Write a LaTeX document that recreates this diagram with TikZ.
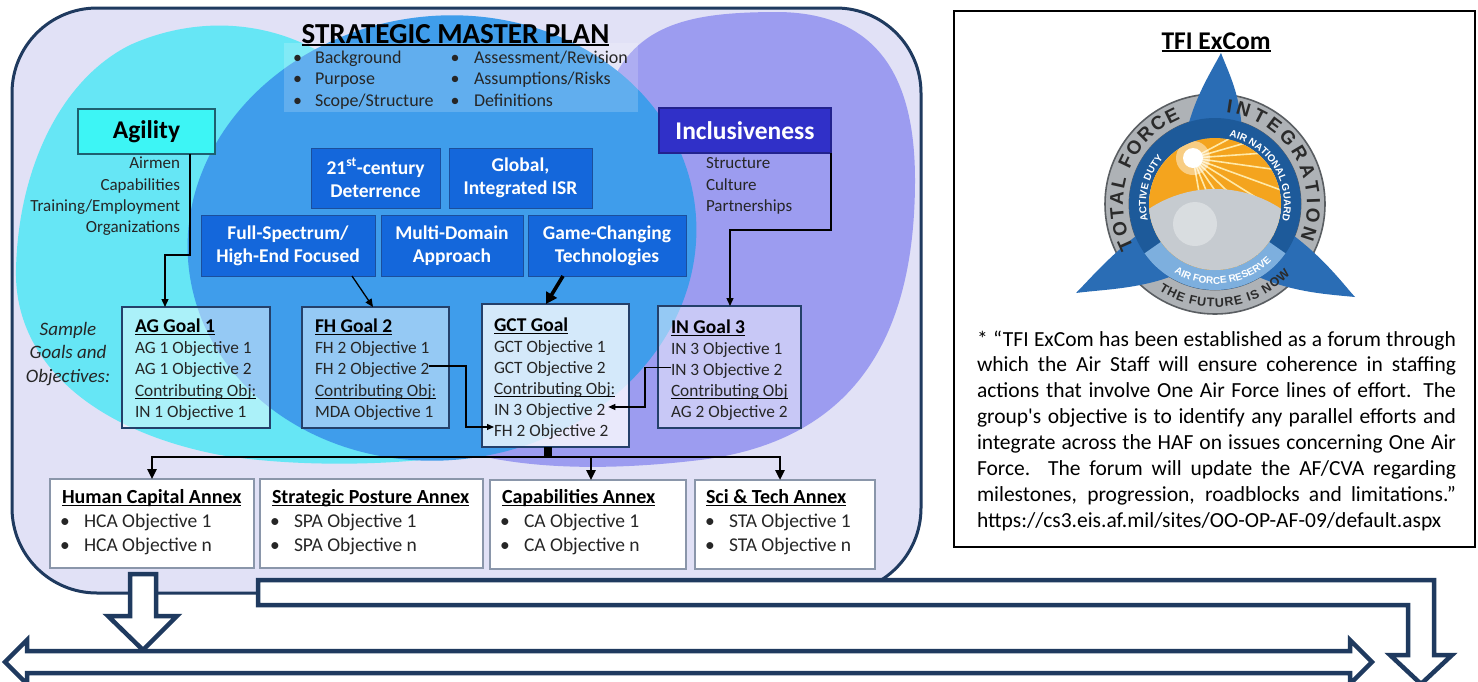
\documentclass[tikz,border=0pt]{standalone}
\usepackage{fontspec}
\setmainfont{Carlito}
\newfontfamily\logofont{Liberation Sans}
\usetikzlibrary{arrows.meta,decorations.text,calc}
\definecolor{navy}{HTML}{1F3A5F}
\definecolor{lav}{HTML}{E1E1F6}
\definecolor{cyanbg}{HTML}{66E6F5}
\definecolor{bluebg}{HTML}{3F9DEB}
\definecolor{purpbg}{HTML}{9C9CF0}
\definecolor{agcyan}{HTML}{3DF5F5}
\definecolor{agbord}{HTML}{1E6070}
\definecolor{incl}{HTML}{3030C8}
\definecolor{inclb}{HTML}{22228E}
\definecolor{bbox}{HTML}{1467DB}
\definecolor{bboxd}{HTML}{1B4F9C}
\definecolor{goalb}{HTML}{24406A}
\definecolor{anxb}{HTML}{8A96AA}
\definecolor{txt}{HTML}{262626}
\definecolor{ringgray}{HTML}{AEB2B6}
\definecolor{ringdark}{HTML}{5A5E62}
\definecolor{spikeb}{HTML}{2A6DB5}
\definecolor{bandd}{HTML}{1D5A9A}
\definecolor{bandl}{HTML}{7DAFDE}
\definecolor{sunor}{HTML}{F4A41E}
\definecolor{globeg}{HTML}{C6CBD0}
\definecolor{ltext}{HTML}{2B2B2B}
\definecolor{rayc}{HTML}{FFE9A8}
\newcommand{\fsz}[1]{\fontsize{#1pt}{#1pt}\selectfont}
\newcommand{\undl}[2][1.1]{\draw[line width=#1pt] ([yshift=-2.2pt]#2.base west) -- ([yshift=-2.2pt]#2.base east);}
\begin{document}
\begin{tikzpicture}[x=1pt,y=-1pt,
  every node/.style={inner sep=0pt,outer sep=0pt},
  bul/.style={anchor=base west,font=\fsz{18},text=txt},
  agl/.style={anchor=base west,font=\fsz{17},text=txt},
  gh/.style={anchor=base west,font=\bfseries\fsz{19.5},text=black},
  gt/.style={anchor=base west,font=\fsz{17.3},text=txt},
  anh/.style={anchor=base west,font=\bfseries\fsz{20},text=black},
  ant/.style={anchor=base west,font=\fsz{19.5},text=txt},
  ptx/.style={anchor=base west,font=\fsz{21.5},text=black},
  bluebox/.style={draw=bboxd,line width=1pt,fill=bbox,text=white,font=\bfseries\fontsize{19.5pt}{23pt}\selectfont,align=center},
  goalbox/.style={draw=goalb,line width=1.8pt,fill=white,fill opacity=0.45},
  annexbox/.style={draw=anxb,line width=1.2pt,fill=white},
  conn/.style={line width=1.3pt,-{Triangle[length=8pt,width=7pt]}},
  xconn/.style={line width=1.2pt,-{Triangle[length=7pt,width=6pt]}},
  busline/.style={line width=2.4pt,-{Triangle[length=10pt,width=9pt]}},
  blockarrow/.style={draw=navy,line width=4.5pt,fill=white,line join=miter}
  ]
\useasboundingbox (0,0) rectangle (1478,681);
\fill[white] (0,0) rectangle (1478,681);

% ---------- background of master plan ----------
\begin{scope}
\clip[rounded corners=85pt] (12,8) rectangle (921,593);
\fill[lav] (12,8) rectangle (921,593);
\fill[cyanbg] (320,52) .. controls (260,18) and (190,18) .. (130,45) .. controls (60,80) and (18,170) .. (16,270) .. controls (14,360) and (90,430) .. (220,455) .. controls (300,468) and (400,465) .. (460,455) -- (500,150) -- cycle;
\fill[purpbg] (612,82) .. controls (640,20) and (700,12) .. (780,12) .. controls (880,14) and (915,80) .. (915,180) .. controls (915,330) and (860,440) .. (700,460) .. controls (600,472) and (500,470) .. (430,440) -- (400,100) -- cycle;
\fill[bluebg, rotate around={8:(442,238)}] (442,238) ellipse [x radius=255, y radius=222];
\fill[white, fill opacity=0.18] (284,43) rectangle (638,112);
\end{scope}
\draw[navy, line width=3pt, rounded corners=85pt] (12,8) rectangle (921,593);

% ---------- title and bullets ----------
\node[anchor=base, font=\bfseries\fsz{29}] (title) at (455.5,43) {STRATEGIC MASTER PLAN};
\undl[1.8]{title}
\node[bul,anchor=base] (bd1) at (297.5,63) {\textbullet};
\node[bul] (bt1) at (315,63) {Background};
\node[bul,anchor=base] (bd2) at (297.5,84.5) {\textbullet};
\node[bul] (bt2) at (315,84.5) {Purpose};
\node[bul,anchor=base] (bd3) at (297.5,106) {\textbullet};
\node[bul] (bt3) at (315,106) {Scope/Structure};
\node[bul,anchor=base] (bd4) at (455,63) {\textbullet};
\node[bul] (bt4) at (474,63) {Assessment/Revision};
\node[bul,anchor=base] (bd5) at (455,84.5) {\textbullet};
\node[bul] (bt5) at (474,84.5) {Assumptions/Risks};
\node[bul,anchor=base] (bd6) at (455,106) {\textbullet};
\node[bul] (bt6) at (474,106) {Definitions};

% ---------- Agility / Inclusiveness ----------
\node[draw=agbord, line width=1.3pt, fill=agcyan, minimum width=137pt, minimum height=45pt, font=\bfseries\fsz{25.5}] (ag) at (146.5,131.5) {Agility};
\node[agl,anchor=base east] (al1) at (180,168) {Airmen};
\node[agl,anchor=base east] (al2) at (180,190) {Capabilities};
\node[agl,anchor=base east] (al3) at (180,211) {Training/Employment};
\node[agl,anchor=base east] (al4) at (180,232) {Organizations};

\node[draw=inclb, line width=1.3pt, fill=incl, text=white, minimum width=172pt, minimum height=45pt, font=\bfseries\fsz{25.5}] (inc) at (745,130.5) {Inclusiveness};
\node[agl] (il1) at (706,168) {Structure};
\node[agl] (il2) at (706,190) {Culture};
\node[agl] (il3) at (706,211) {Partnerships};

% ---------- blue priority boxes ----------
\node[bluebox, minimum width=129pt, minimum height=60pt] (d21) at (375.5,178) {21\textsuperscript{st}-century\\Deterrence};
\node[bluebox, minimum width=143pt, minimum height=60pt] (gisr) at (520.5,178) {Global,\\Integrated ISR};
\node[bluebox, minimum width=174pt, minimum height=61pt] (fs) at (288,245.5) {Full-Spectrum/\\High-End Focused};
\node[bluebox, minimum width=142pt, minimum height=61pt] (mda) at (452,245.5) {Multi-Domain\\Approach};
\node[bluebox, minimum width=158pt, minimum height=61pt] (gc) at (607,245.5) {Game-Changing\\Technologies};

% ---------- goal boxes ----------
\node[goalbox, minimum width=148pt, minimum height=121pt] (g1) at (196,367.5) {};
\node[goalbox, minimum width=147pt, minimum height=121pt] (g2) at (375.5,367.5) {};
\node[goalbox, fill opacity=0.78, minimum width=147pt, minimum height=143pt] (g3) at (555.5,375.5) {};
\node[goalbox, minimum width=143pt, minimum height=122pt] (g4) at (729.5,367) {};

\node[gh] (g1h) at (135,332) {AG Goal 1}; \undl{g1h}
\node[gt] (g1a) at (135,353.5) {AG 1 Objective 1};
\node[gt] (g1b) at (135,374.5) {AG 1 Objective 2};
\node[gt] (g1c) at (135,396) {Contributing Obj:}; \undl[0.9]{g1c}
\node[gt] (g1d) at (135,417) {IN 1 Objective 1};

\node[gh] (g2h) at (315,332) {FH Goal 2}; \undl{g2h}
\node[gt] (g2a) at (315,353.5) {FH 2 Objective 1};
\node[gt] (f22) at (315,374.5) {FH 2 Objective 2};
\node[gt] (g2c) at (315,396) {Contributing Obj:}; \undl[0.9]{g2c}
\node[gt] (g2d) at (315,417) {MDA Objective 1};

\node[gh] (g3h) at (494,331) {GCT Goal}; \undl{g3h}
\node[gt] (g3a) at (494,352) {GCT Objective 1};
\node[gt] (g3b) at (494,373) {GCT Objective 2};
\node[gt] (g3c) at (494,394) {Contributing Obj:}; \undl[0.9]{g3c}
\node[gt] (gi32) at (494,415) {IN 3 Objective 2};
\node[gt] (gf22) at (494,436) {FH 2 Objective 2};

\node[gh] (g4h) at (671,333) {IN Goal 3}; \undl{g4h}
\node[gt] (g4a) at (671,354) {IN 3 Objective 1};
\node[gt] (i32) at (671,375) {IN 3 Objective 2};
\node[gt] (g4c) at (671,396) {Contributing Obj}; \undl[0.9]{g4c}
\node[gt] (g4d) at (671,417) {AG 2 Objective 2};

\node[anchor=base, font=\itshape\fsz{19}, text=txt] (s1) at (68,335) {Sample};
\node[anchor=base, font=\itshape\fsz{19}, text=txt] (s2) at (68,358) {Goals and};
\node[anchor=base, font=\itshape\fsz{19}, text=txt] (s3) at (68,382) {Objectives:};

% ---------- annex boxes ----------
\node[annexbox, minimum width=204pt, minimum height=89pt] (a1) at (152,523.5) {};
\node[annexbox, minimum width=223pt, minimum height=89pt] (a2) at (371.5,523.5) {};
\node[annexbox, minimum width=196pt, minimum height=89pt] (a3) at (588,524.5) {};
\node[annexbox, minimum width=180pt, minimum height=89pt] (a4) at (785,524.5) {};

\node[anh] (a1h) at (62,503) {Human Capital Annex}; \undl{a1h}
\node[ant,anchor=base] (a1d1) at (65,527) {\textbullet};
\node[ant] (a1t1) at (84,527) {HCA Objective 1};
\node[ant,anchor=base] (a1d2) at (65,551) {\textbullet};
\node[ant] (a1t2) at (84,551) {HCA Objective n};

\node[anh] (a2h) at (272,503) {Strategic Posture Annex}; \undl{a2h}
\node[ant,anchor=base] (a2d1) at (275,527) {\textbullet};
\node[ant] (a2t1) at (294,527) {SPA Objective 1};
\node[ant,anchor=base] (a2d2) at (275,551) {\textbullet};
\node[ant] (a2t2) at (294,551) {SPA Objective n};

\node[anh] (a3h) at (502,503) {Capabilities Annex}; \undl{a3h}
\node[ant,anchor=base] (a3d1) at (505,527) {\textbullet};
\node[ant] (a3t1) at (524,527) {CA Objective 1};
\node[ant,anchor=base] (a3d2) at (505,551) {\textbullet};
\node[ant] (a3t2) at (524,551) {CA Objective n};

\node[anh] (a4h) at (706,503) {Sci \& Tech Annex}; \undl{a4h}
\node[ant,anchor=base] (a4d1) at (710,527) {\textbullet};
\node[ant] (a4t1) at (729,527) {STA Objective 1};
\node[ant,anchor=base] (a4d2) at (710,551) {\textbullet};
\node[ant] (a4t2) at (729,551) {STA Objective n};

% ---------- connectors ----------
\coordinate (agb) at (165,255);
\draw[conn] ([xshift=43.5pt]ag.south) |- (agb) -- (agb |- g1.north);
\coordinate (inb) at (730,230);
\draw[conn] (inc.south east) |- (inb) -- (inb |- g4.north);
\draw[conn] ([xshift=64pt]fs.south) -- ([xshift=-2.5pt]g2.north);
\draw[line width=3.6pt,-{Triangle[length=11pt,width=12pt]}] ([xshift=-44pt]gc.south) -- ([xshift=-9.5pt]g3.north);
\coordinate (x1) at (466,0);
\draw[xconn] ([yshift=4pt]f22.east) -| ([yshift=4.5pt]x1 |- gf22.west) -- ([yshift=4.5pt]gf22.west);
\coordinate (x2) at (645,0);
\draw[xconn] ([yshift=3pt]i32.west) -| ([yshift=3.5pt]x2 |- gi32.east) -- ([xshift=3pt,yshift=3.5pt]gi32.east);
\coordinate (bus) at (548,457);
\draw[line width=8pt] (g3.south -| bus) -- (bus);
\draw[busline] (bus) -| (a1.north);
\draw[busline] (bus) -| ([xshift=3pt]a3.north);
\draw[busline] (bus) -| ([xshift=-5pt]a4.north);

% ---------- right panel ----------
\node[draw, line width=1.6pt, minimum width=521pt, minimum height=536pt] (tfi) at (1214.5,279) {};
\node[anchor=base, font=\bfseries\fsz{25.5}] (tfih) at (1216,49) {TFI ExCom};
\undl[1.8]{tfih}

\begin{scope}[x=1pt,y=1pt,shift={(1215pt,-204pt)}]
  \fill[ringgray, even odd rule] (0,0) circle[radius=110] (0,0) circle[radius=86];
  \draw[ringdark, line width=1.6pt] (0,0) circle[radius=110];
  \draw[ringdark, line width=0.8pt] (0,0) circle[radius=86];
  \fill[spikeb] (-31,58) .. controls (-25,100) and (-5,130) .. (6,151) .. controls (14,130) and (28,105) .. (27,60) -- cycle;
  \fill[spikeb] (-62.8,-20.4) .. controls (-100,-45) and (-125,-75) .. (-139,-89) .. controls (-110,-85) and (-60,-85) .. (-22.6,-62) -- cycle;
  \fill[spikeb] (62.8,-20.4) .. controls (105,-48) and (128,-80) .. (140,-93) .. controls (110,-90) and (65,-88) .. (22.6,-62) -- cycle;
  \fill[bandd, even odd rule] (0,0) circle[radius=86] (0,0) circle[radius=66];
  \fill[bandl] (215:86) arc[start angle=215,end angle=325,radius=86] -- (325:66) arc[start angle=325,end angle=215,radius=66] -- cycle;
  \fill[sunor] (0,0) circle[radius=66];
  \begin{scope}
    \clip (0,0) circle[radius=66];
    \foreach \a in {-80,-68,...,30} \draw[rayc, line width=1.6pt] (-22,46) -- ++(\a:120);
    \fill[white, opacity=0.45] (-22,46) circle[radius=17];
    \fill[white] (-22,46) circle[radius=10];
    \fill[globeg] (0,-105) circle[radius=120];
    \fill[white, opacity=0.35] (-20,-20) circle[radius=22];
  \end{scope}
  \path[decorate, decoration={text along path, text={|\logofont\bfseries\fsz{19}\color{ltext}|TOTAL FORCE}, text align={fit to path}}] (208:92) arc[start angle=208,end angle=112,radius=92];
  \path[decorate, decoration={text along path, text={|\logofont\bfseries\fsz{19}\color{ltext}|INTEGRATION}, text align={fit to path}}] (83:92) arc[start angle=83,end angle=-22,radius=92];
  \path[decorate, decoration={text along path, text={|\logofont\bfseries\fsz{12.5}\color{ltext}|THE FUTURE IS NOW}, text align={fit to path}}] (237:103) arc[start angle=237,end angle=317,radius=103];
  \path[decorate, decoration={text along path, text={|\logofont\bfseries\fsz{10}\color{white}|ACTIVE DUTY}, text align=center}] (210:69) arc[start angle=210,end angle=122,radius=69];
  \path[decorate, decoration={text along path, text={|\logofont\bfseries\fsz{10}\color{white}|AIR NATIONAL GUARD}, text align=center}] (92:69) arc[start angle=92,end angle=-28,radius=69];
  \path[decorate, decoration={text along path, text={|\logofont\bfseries\fsz{10}\color{white}|AIR FORCE RESERVE}, text align=center}] (222:80) arc[start angle=222,end angle=332,radius=80];
\end{scope}

\node[ptx] (p1) at (977,346) {\makebox[479pt][s]{* “TFI ExCom has been established as a forum through}};
\node[ptx] (p2) at (977,371.9) {\makebox[479pt][s]{which the Air Staff will ensure coherence in staffing}};
\node[ptx] (p3) at (977,397.8) {\makebox[479pt][s]{actions that involve One Air Force lines of effort. The}};
\node[ptx] (p4) at (977,423.7) {\makebox[479pt][s]{group\textquotesingle s objective is to identify any parallel efforts and}};
\node[ptx] (p5) at (977,449.6) {\makebox[479pt][s]{integrate across the HAF on issues concerning One Air}};
\node[ptx] (p6) at (977,475.5) {\makebox[479pt][s]{Force.\ \ The forum will update the AF/CVA regarding}};
\node[ptx] (p7) at (977,501.4) {\makebox[479pt][s]{milestones, progression, roadblocks and limitations.”}};
\node[ptx] (p8) at (977,527.3) {https://cs3.eis.af.mil/sites/OO-OP-AF-09/default.aspx};

% ---------- bottom block arrows ----------
\draw[blockarrow] (258,580) -- (1434,580) -- (1434,655) -- (1452,655) -- (1421,684) -- (1390,655) -- (1408,655) -- (1408,605) -- (258,605) -- cycle;
\draw[blockarrow] (130,574) -- (156,574) -- (156,616) -- (177,616) -- (143,650) -- (108,616) -- (130,616) -- cycle;
\draw[blockarrow] (27,651) -- (1350,651) -- (1350,640) -- (1372,662) -- (1350,684) -- (1350,673) -- (27,673) -- (27,684) -- (5,662) -- (27,640) -- cycle;
\end{tikzpicture}
\end{document}
